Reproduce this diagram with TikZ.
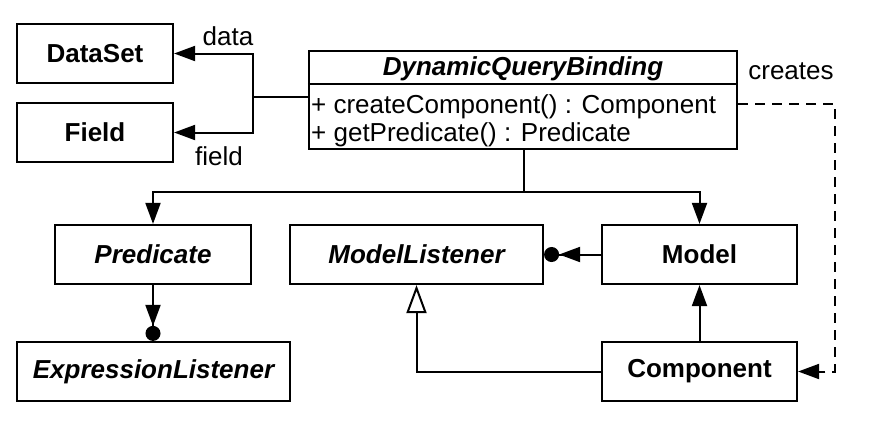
\documentclass[tikz,border=0pt]{standalone}
\usepackage{fontspec}
\setmainfont{Liberation Sans}
\usetikzlibrary{arrows.meta}
\begin{document}
\begin{tikzpicture}[x=1pt,y=-1pt,
  fnt/.style={font=\fontsize{26}{30}\selectfont},
  box/.style={draw,line width=2.2pt,minimum height=59pt,inner sep=0pt,font=\fontsize{26}{30}\selectfont\bfseries},
  abox/.style={box,font=\fontsize{26}{30}\selectfont\bfseries\itshape},
  conn/.style={line width=2pt},
  arr/.style={conn,-{Triangle[length=21pt,width=15pt]}},
  dotarr/.style={conn,-{Triangle[length=21pt,width=15pt]Circle[length=15pt]}},
  gen/.style={conn,-{Triangle[open,length=28pt,width=20pt,fill=white]}},
  lbl/.style={fnt,inner sep=0pt,anchor=base},
  txt/.style={fnt,inner sep=0pt,anchor=base west}]
\useasboundingbox (0,0) rectangle (880,424);
% class boxes
\node[box,minimum width=156pt] (ds) at (95,53.5) {DataSet};
\node[box,minimum width=156pt] (fld) at (95,132.5) {Field};
\node[abox,minimum width=196pt] (pred) at (153,254.5) {Predicate};
\node[abox,minimum width=253pt] (mlist) at (416.5,254.5) {ModelListener};
\node[box,minimum width=195pt] (model) at (699.5,254.5) {Model};
\node[abox,minimum width=273pt] (expr) at (153.5,371.5) {ExpressionListener};
\node[box,minimum width=195pt] (comp) at (699.5,371.5) {Component};
% DynamicQueryBinding class
\node[draw,line width=2.2pt,minimum width=428pt,minimum height=98pt,inner sep=0pt] (dqb) at (523,100) {};
\draw[conn] (dqb.west |- 0,84) -- (dqb.east |- 0,84);
\node[lbl,font=\fontsize{26}{30}\selectfont\bfseries\itshape] (dqbt) at (523,75.5) {DynamicQueryBinding};
\node[txt] (m1) at (311,113) {+ createComponent() : Component};
\node[txt] (m2) at (311,141) {+ getPredicate() : Predicate};
% labels
\node[lbl] (ldata) at (228,45) {data};
\node[lbl] (lfield) at (219,165) {field};
\node[lbl] (lcreates) at (791,79) {creates};
% connectors
\coordinate (j) at (253,97);
\draw[conn] (dqb.west |- j) -- (j);
\draw[arr] (j) |- (ds.east);
\draw[arr] (j) |- (fld.east);
\coordinate (h) at (524,192);
\draw[conn] (dqb.south -| h) -- (h);
\draw[arr] (h) -| (pred.north);
\draw[arr] (h) -| (model.north);
\draw[dotarr] (pred.south) -- (pred.south |- expr.north);
\draw[dotarr] (model.west) -- (mlist.east);
\draw[arr] (comp.north) -- (model.south);
\draw[gen] (comp.west) -| (mlist.south);
\coordinate (c1) at (835,104);
\draw[arr,dash pattern=on 10pt off 7pt] (dqb.east |- c1) -- (c1) |- (comp.east);
\end{tikzpicture}
\end{document}
